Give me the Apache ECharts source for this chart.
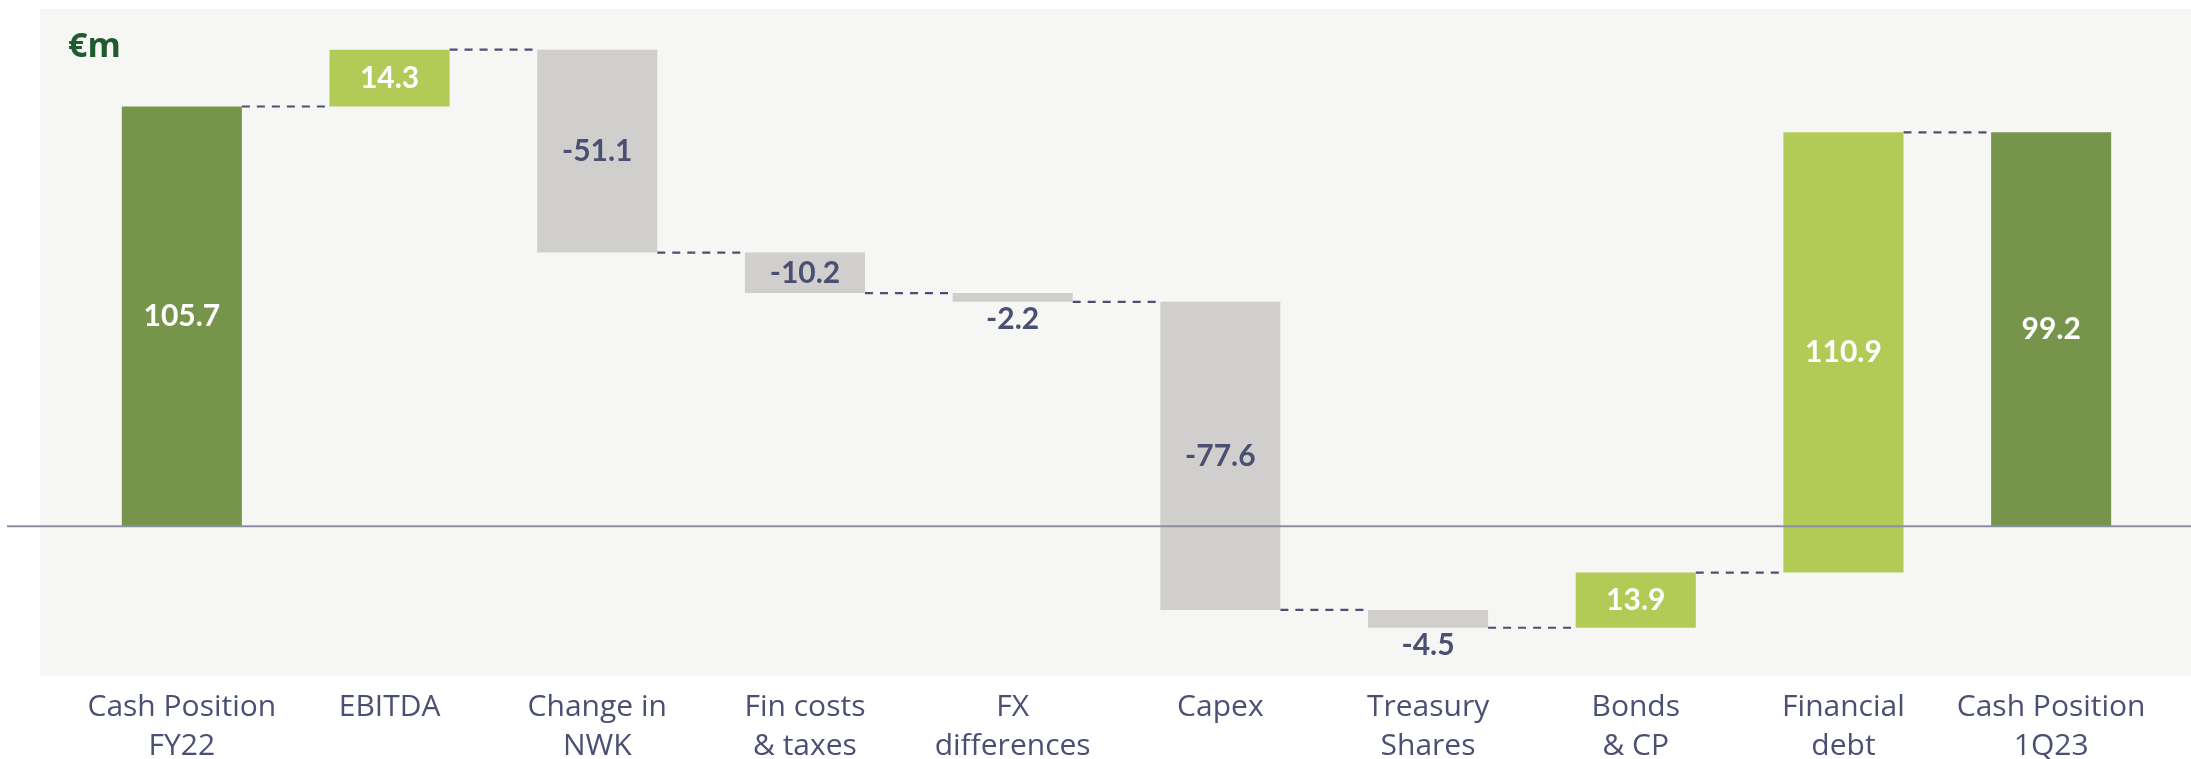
<!DOCTYPE html>
<html>
<head>
<meta charset="utf-8">
<script src="https://cdn.jsdelivr.net/npm/echarts@6/dist/echarts.min.js"></script>
<style>
  html, body { margin: 0; padding: 0; background: #ffffff; }
  #cash-bridge { width: 2191px; height: 759px; }
</style>
</head>
<body>
<div id="cash-bridge"></div>
<script>
var categories = ['Cash Position\nFY22', 'EBITDA', 'Change in\nNWK', 'Fin costs\n& taxes', 'FX\ndifferences',
  'Capex', 'Treasury\nShares', 'Bonds\n& CP', 'Financial\ndebt', 'Cash Position\n1Q23'];
var changes = [105.7, 14.3, -51.1, -10.2, -2.2, -77.6, -4.5, 13.9, 110.9, 99.2];
var isTotal = [true, false, false, false, false, false, false, false, false, true];
var unitLabel = '€m';

// waterfall: [index, from, to, value]
var bars = [];
var levels = [];
var running = 0;
changes.forEach(function (v, i) {
  var from = isTotal[i] ? 0 : running;
  var to = isTotal[i] ? v : running + v;
  running = to;
  bars.push([i, from, to, v]);
  if (i < changes.length - 1) levels.push([i, running]);
});

var ink = '#4b5072';
var barRatio = 0.578;

function renderBar(params, api) {
  var i = api.value(0);
  var v = api.value(3);
  var p0 = api.coord([i, api.value(1)]);
  var p1 = api.coord([i, api.value(2)]);
  var w = api.size([1, 0])[0] * barRatio;
  var top = Math.min(p0[1], p1[1]);
  var h = Math.abs(p1[1] - p0[1]);
  var color = isTotal[i] ? '#76954a' : (v > 0 ? '#b2ca56' : '#d0cfcd');
  var small = h < 30;
  return {
    type: 'rect',
    shape: { x: p0[0] - w / 2, y: top, width: w, height: h },
    style: { fill: color },
    textContent: {
      style: {
        text: v.toFixed(1),
        fill: v > 0 ? '#ffffff' : ink,
        font: 'bold 30px Lato'
      }
    },
    textConfig: { position: small ? 'bottom' : 'inside', distance: 3 }
  };
}

function renderLink(params, api) {
  var i = api.value(0);
  var p = api.coord([i, api.value(1)]);
  var band = api.size([1, 0])[0];
  var half = band * barRatio / 2;
  return {
    type: 'line',
    shape: { x1: p[0] + half, y1: p[1], x2: p[0] + band - half, y2: p[1] },
    style: { stroke: ink, lineWidth: 2.2, lineDash: [8, 7] }
  };
}

var myChart = echarts.init(document.getElementById('cash-bridge'));
myChart.setOption({
  animation: false,
  grid: { left: 78, right: 36, top: 10, bottom: 82, outerBoundsMode: 'none', containLabel: false },
  xAxis: {
    type: 'category',
    data: categories,
    axisLine: { show: false },
    axisTick: { show: false },
    splitLine: { show: false },
    axisLabel: {
      interval: 0,
      color: ink,
      fontFamily: 'Open Sans',
      fontSize: 30,
      lineHeight: 39,
      margin: 11
    }
  },
  yAxis: {
    type: 'value',
    min: -38,
    max: 130,
    show: false
  },
  series: [
    {
      type: 'custom',
      renderItem: renderLink,
      data: levels,
      z: 1
    },
    {
      type: 'custom',
      renderItem: renderBar,
      data: bars,
      z: 2
    }
  ]
});

// background panel, zero line and unit label
var zeroY = myChart.convertToPixel({ yAxisIndex: 0 }, 0);
myChart.setOption({
  graphic: [
    {
      type: 'rect', left: 40, top: 9, z: -10, silent: true,
      shape: { width: 2151, height: 667 },
      style: { fill: '#f6f6f4' }
    },
    {
      type: 'line', z: 5, silent: true,
      shape: { x1: 7, y1: zeroY, x2: 2191, y2: zeroY },
      style: { stroke: '#8b8fa5', lineWidth: 2 }
    },
    {
      type: 'text', left: 68, top: 30, z: 5,
      style: { text: unitLabel, fill: '#1f5a32', font: 'bold 34px "Open Sans"' }
    }
  ]
});
</script>
</body>
</html>
